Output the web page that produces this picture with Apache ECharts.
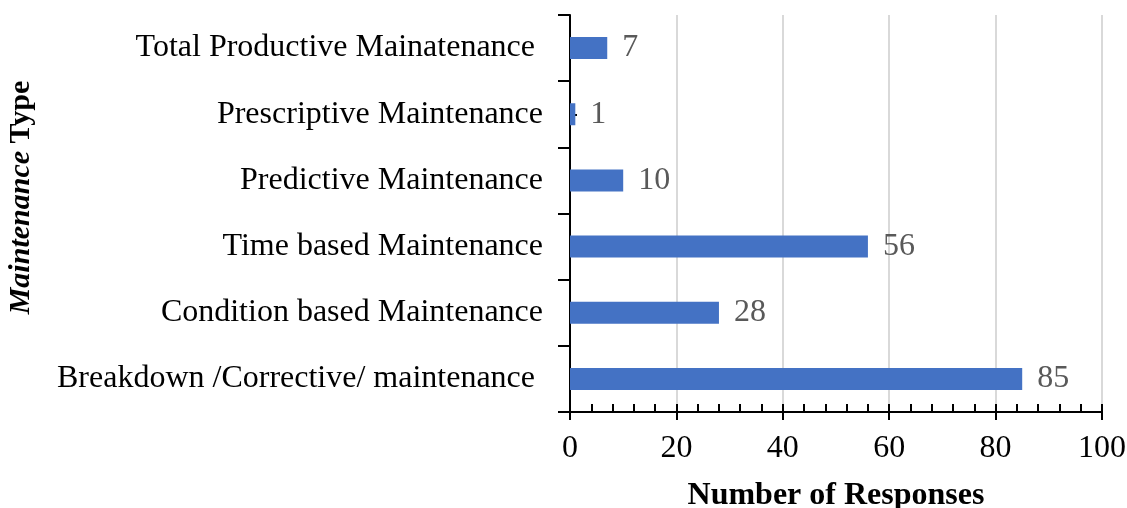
<!DOCTYPE html>
<html><head><meta charset="utf-8">
<script src="https://cdn.jsdelivr.net/npm/echarts@6/dist/echarts.min.js"></script>
<style>html,body{margin:0;padding:0;background:#fff}#c{width:1127px;height:508px}</style>
</head><body><div id="c"></div>
<script>
const categories = ["Breakdown /Corrective/ maintenance ", "Condition based Maintenance", "Time based Maintenance", "Predictive Maintenance", "Prescriptive Maintenance", "Total Productive Mainatenance "];
const responses = [85, 28, 56, 10, 1, 7];
const xTicks = [0, 20, 40, 60, 80, 100];

const FONT = '"Liberation Serif", "Times New Roman", serif';
const chart = echarts.init(document.getElementById('c'));
chart.setOption({
  animation: false,
  grid: { left: 570, right: 25, top: 15, bottom: 96, containLabel: false, outerBoundsMode: 'none' },
  xAxis: [{
    type: 'value', min: xTicks[0], max: xTicks[xTicks.length - 1], interval: 20,
    name: 'Number of Responses', nameLocation: 'middle', nameGap: 68,
    nameTextStyle: { fontFamily: FONT, fontSize: 32, fontWeight: 'bold', color: '#000' },
    axisLine: { show: true, lineStyle: { color: '#000', width: 2 } },
    axisTick: { show: true, inside: false, length: 8, lineStyle: { color: '#000', width: 2 } },
    axisLabel: { fontFamily: FONT, fontSize: 32, color: '#000', margin: 21 },
    splitLine: { show: true, lineStyle: { color: '#d9d9d9', width: 2 } }
  }, {
    type: 'value', min: 0, max: 100, interval: 20, position: 'bottom',
    axisLine: { show: false },
    axisTick: { show: true, inside: true, length: 8, lineStyle: { color: '#000', width: 2 } },
    minorTick: { show: true, splitNumber: 5, length: 8, lineStyle: { color: '#000', width: 2 } },
    axisLabel: { show: false }, splitLine: { show: false }
  }],
  yAxis: [{
    type: 'category', data: categories,
    name: '{i|Maintenance} {b|Type}', nameLocation: 'middle', nameGap: 534, nameRotate: 90,
    nameTextStyle: { fontFamily: FONT, fontSize: 30, color: '#000', padding: [0, 0, 0, 32],
      rich: { i: { fontFamily: FONT, fontSize: 30, fontWeight: 'bold', fontStyle: 'italic' },
              b: { fontFamily: FONT, fontSize: 30, fontWeight: 'bold' } } },
    axisLine: { show: true, lineStyle: { color: '#000', width: 2 } },
    axisTick: { show: true, inside: false, length: 12, alignWithLabel: false, lineStyle: { color: '#000', width: 2 } },
    axisLabel: { fontFamily: FONT, fontSize: 32, color: '#000', margin: 27 },
    splitLine: { show: false }
  }, {
    type: 'category', data: categories, position: 'left',
    axisLine: { show: false },
    axisTick: { show: true, inside: true, length: 7, alignWithLabel: true, lineStyle: { color: '#000', width: 2 } },
    axisLabel: { show: false }, splitLine: { show: false }
  }],
  series: [{
    type: 'bar', data: responses, xAxisIndex: 0, yAxisIndex: 0, barWidth: 22,
    itemStyle: { color: '#4472C4' },
    label: { show: true, position: 'right', distance: 15, fontFamily: FONT, fontSize: 32, color: '#595959' }
  }]
});
</script></body></html>
